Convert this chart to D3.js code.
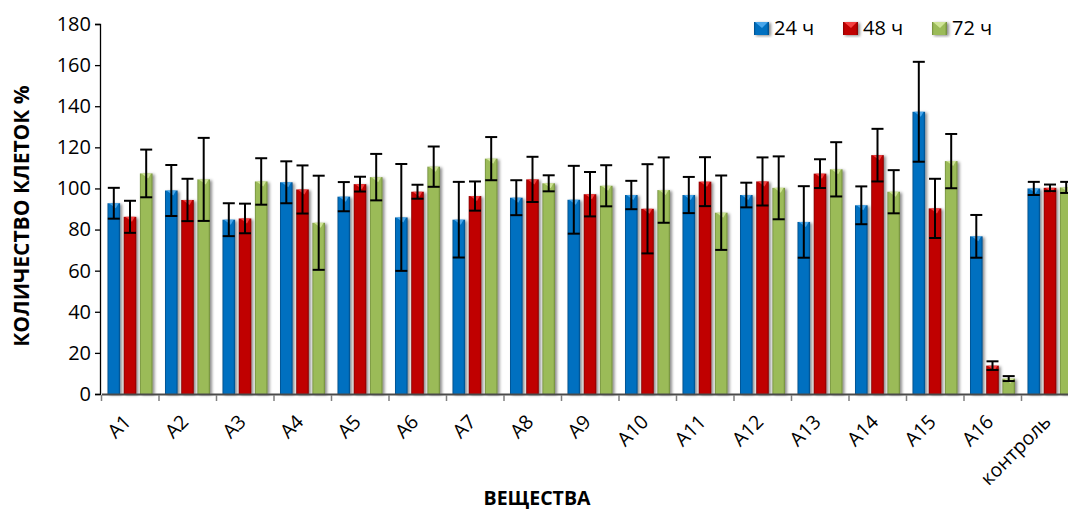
<!DOCTYPE html>
<html><head><meta charset="utf-8">
<script src="https://cdn.jsdelivr.net/npm/d3@7"></script>
<style>
body{margin:0;background:#fff}
svg{display:block;font-family:"Open Sans","Noto Sans",sans-serif}
</style>
</head><body>
<svg id="c" width="1068" height="510"></svg>
<script>
const categories = ["A1","A2","A3","A4","A5","A6","A7","A8","A9","A10","A11","A12","A13","A14","A15","A16","контроль"];
const seriesNames = ["24 ч","48 ч","72 ч"];
const values24 = [92.8,99,84.8,103,96,85.9,84.8,95.5,94.5,96.8,96.8,96.8,83.7,91.8,137.3,76.7,100];
const errors24 = [7.5,12.4,8,10.2,7.1,26,18.4,8.5,16.5,6.9,8.8,6,17.4,9.2,24.3,10.4,3.2];
const values48 = [86.2,94.4,85.4,99.5,102.1,98.4,96.3,104.4,97.2,90.1,103.3,103.4,107.2,116.2,90.3,13.8,100.3];
const errors48 = [7.8,10.3,7.2,11.7,3.6,3.4,7.1,11,10.8,21.7,11.9,11.7,7,12.8,14.4,2.1,1.6];
const values72 = [107.3,104.4,103.4,83.3,105.5,110.6,114.5,102.5,101.3,99.2,88.2,100.3,109.3,98.4,113.3,7.5,100.5];
const errors72 = [11.6,20.2,11.3,22.9,11.3,9.8,10.5,3.9,10,15.9,18.1,15.3,13.2,10.5,13.2,1.2,2.7];
const yTicks = [0,20,40,60,80,100,120,140,160,180];
const yTitle = "КОЛИЧЕСТВО КЛЕТОК %";
const xTitle = "ВЕЩЕСТВА";

const colors = {"24 ч":{main:"#0070C0",edge:"#004a84",hi:"#5ab4f5"},
                "48 ч":{main:"#C00000",edge:"#840000",hi:"#ff5050"},
                "72 ч":{main:"#9BBB59",edge:"#6f8a3a",hi:"#dcefa8"}};
const seriesVals = {"24 ч":values24,"48 ч":values48,"72 ч":values72};
const seriesErr = {"24 ч":errors24,"48 ч":errors48,"72 ч":errors72};

const svg = d3.select("#c");
const defs = svg.append("defs");
const f = defs.append("filter").attr("id","sh").attr("x","-50%").attr("y","-20%").attr("width","200%").attr("height","140%");
f.append("feDropShadow").attr("dx",2).attr("dy",1).attr("stdDeviation",1.6).attr("flood-color","#000").attr("flood-opacity",0.45);
seriesNames.forEach((s,i)=>{
  const g = defs.append("linearGradient").attr("id","g"+i).attr("x1","0").attr("x2","1").attr("y1","0").attr("y2","0");
  g.append("stop").attr("offset","0").attr("stop-color",colors[s].edge);
  g.append("stop").attr("offset","0.12").attr("stop-color",colors[s].main);
  g.append("stop").attr("offset","0.85").attr("stop-color",colors[s].main);
  g.append("stop").attr("offset","1").attr("stop-color",colors[s].edge);
});

const y = d3.scaleLinear().domain([0,180]).range([394,24]);
const x0 = d3.scaleBand().domain(categories).range([101.5,1079]).padding(0);
const x1 = d3.scaleBand().domain(seriesNames).range([6,51]).paddingInner(0.222).paddingOuter(0);

// y axis
const yAxis = d3.axisLeft(y).tickValues(yTicks).tickSize(5).tickPadding(4);
const ya = svg.append("g").attr("transform","translate(100,0)").call(yAxis);
ya.select(".domain").attr("stroke","#000").attr("stroke-width",1.3);
ya.selectAll(".tick line").attr("stroke","#000").attr("stroke-width",1.3);
ya.selectAll(".tick text").attr("font-size",20).attr("fill","#000").attr("font-family","Open Sans");

// bars
const groups = svg.append("g").selectAll("g").data(categories).join("g")
  .attr("transform",c=>`translate(${x0(c)},0)`);
seriesNames.forEach((s,si)=>{
  groups.append("rect")
    .attr("x",x1(s)).attr("width",x1.bandwidth())
    .attr("y",(c,i)=>y(seriesVals[s][i]))
    .attr("height",(c,i)=>y(0)-y(seriesVals[s][i]))
    .attr("fill",`url(#g${si})`).attr("filter","url(#sh)");
  groups.append("path")
    .attr("d",(c,i)=>{const top=y(seriesVals[s][i]);const xl=x1(s)+1.5,xr=x1(s)+x1.bandwidth()-1.5,h=Math.min(5,y(0)-top);
      return `M${xl},${top}L${xr},${top}L${(xl+xr)/2+2},${top+h}Z`;})
    .attr("fill",colors[s].hi).attr("opacity",0.8);
});

// x axis
const xAxis = d3.axisBottom(x0).tickSize(0).tickFormat("");
const xa = svg.append("g").attr("transform","translate(0,394)").call(xAxis);
xa.select(".domain").attr("stroke","#4a4a4a").attr("stroke-width",2);
svg.append("g").selectAll("line").data(categories).join("line")
  .attr("x1",c=>x0(c)).attr("x2",c=>x0(c)).attr("y1",395).attr("y2",401)
  .attr("stroke","#7f7f7f").attr("stroke-width",1.5);
svg.append("g").selectAll("text").data(categories).join("text")
  .attr("transform",c=>`translate(${x0(c)+x0.bandwidth()/2+2},${423}) rotate(-45)`)
  .attr("text-anchor","end").attr("font-size",19.5).attr("fill","#000")
  .text(c=>c);

// error bars
seriesNames.forEach(s=>{
  const eb = groups.append("g");
  const cx = x1(s)+x1.bandwidth()/2;
  eb.append("line").attr("x1",cx).attr("x2",cx)
    .attr("y1",(c,i)=>y(seriesVals[s][i]+seriesErr[s][i]))
    .attr("y2",(c,i)=>y(seriesVals[s][i]-seriesErr[s][i]));
  eb.append("line").attr("x1",cx-6).attr("x2",cx+6)
    .attr("y1",(c,i)=>y(seriesVals[s][i]+seriesErr[s][i]))
    .attr("y2",(c,i)=>y(seriesVals[s][i]+seriesErr[s][i]));
  eb.append("line").attr("x1",cx-6).attr("x2",cx+6)
    .attr("y1",(c,i)=>y(seriesVals[s][i]-seriesErr[s][i]))
    .attr("y2",(c,i)=>y(seriesVals[s][i]-seriesErr[s][i]));
  eb.selectAll("line").attr("stroke","#000").attr("stroke-width",2);
});

// titles
svg.append("text").attr("transform","translate(28.5,216) rotate(-90)")
  .attr("text-anchor","middle").attr("font-weight","bold").attr("font-size",21).text(yTitle);
svg.append("text").attr("x",537).attr("y",505)
  .attr("text-anchor","middle").attr("font-weight","bold").attr("font-size",19.5).text(xTitle);

// legend
const legX = [754,843,932];
const leg = svg.append("g").selectAll("g").data(seriesNames).join("g")
  .attr("transform",(s,i)=>`translate(${legX[i]},22)`);
leg.append("rect").attr("width",15).attr("height",13).attr("fill",(s,i)=>`url(#g${i})`).attr("filter","url(#sh)");
leg.append("path").attr("d","M1,0L14,0L8,6Z").attr("fill",s=>colors[s].hi).attr("opacity",0.8);
leg.append("text").attr("x",20).attr("y",13).attr("font-size",20).text(s=>s);
</script>
</body></html>
